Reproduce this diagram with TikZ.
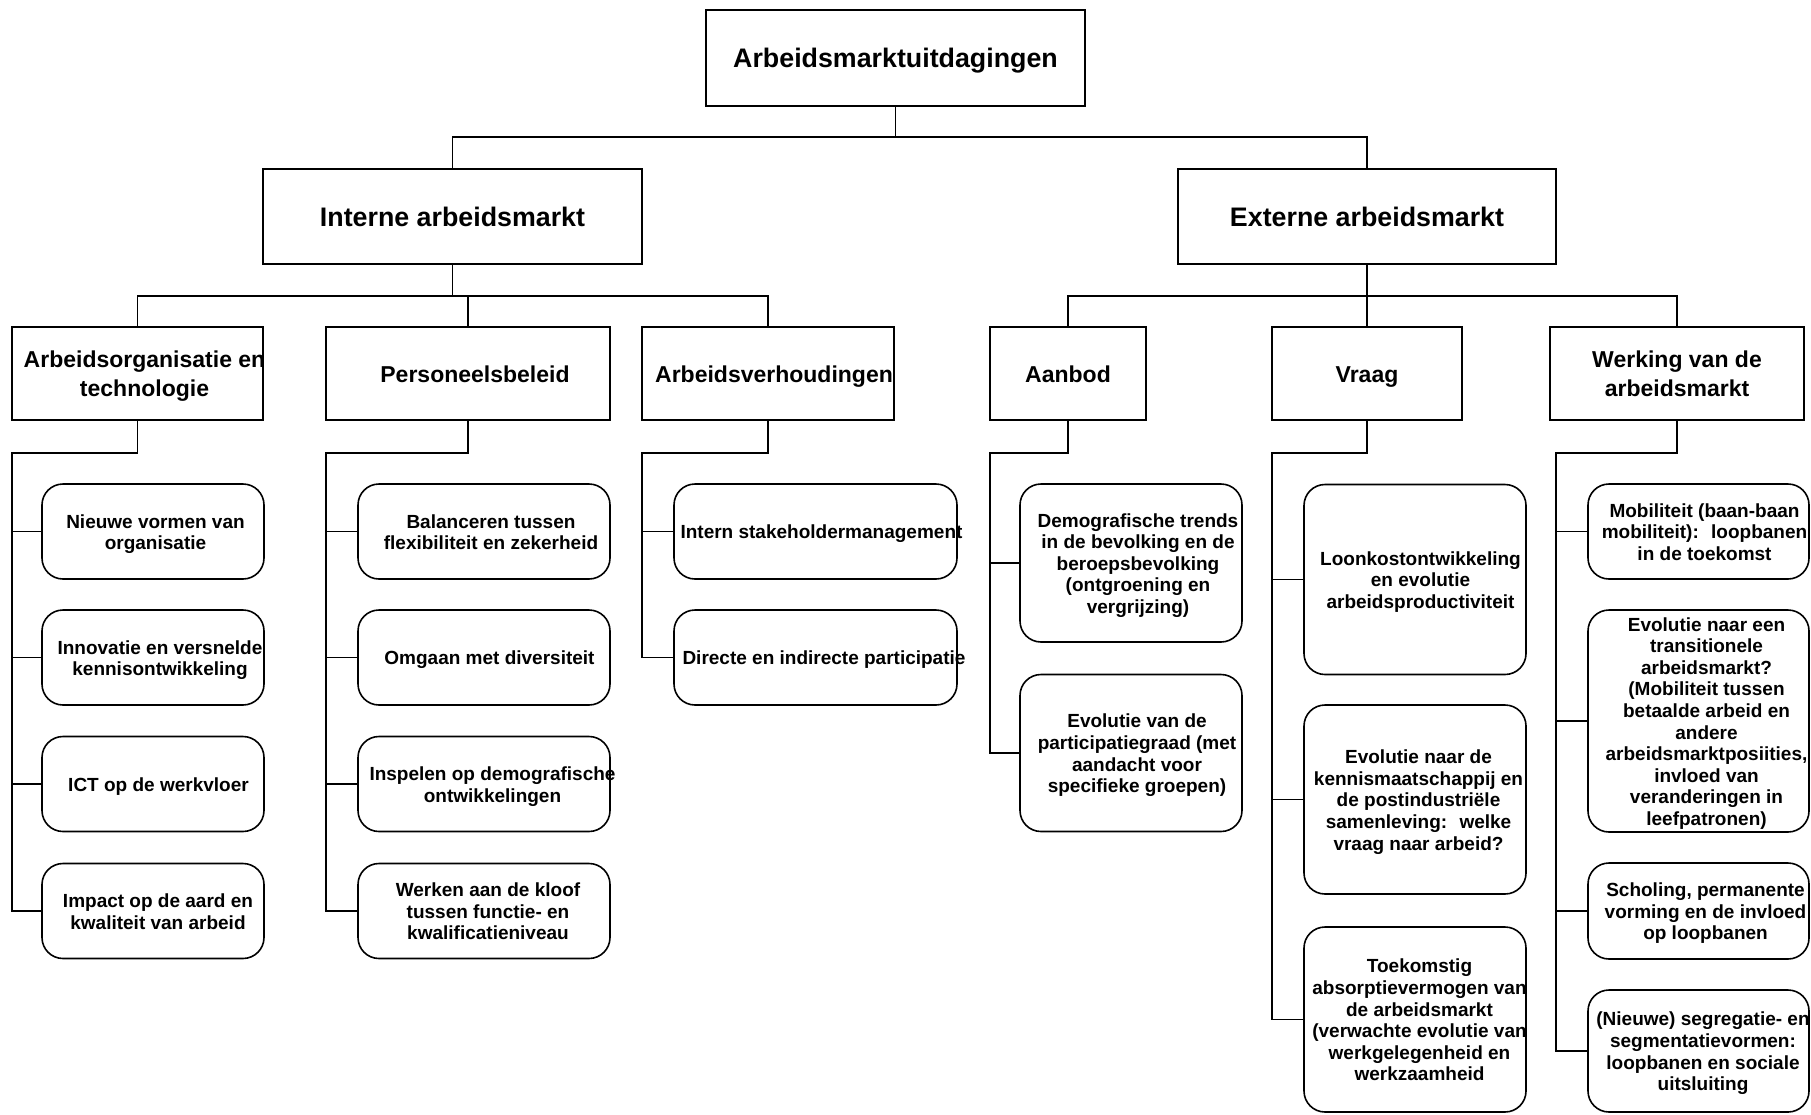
\documentclass[tikz,border=0pt]{standalone}
\usepackage{fontspec}
\setmainfont{Liberation Sans}
\newcommand\leaffont{\fontsize{19}{21.6}\selectfont\bfseries}
\newcommand\midfont{\fontsize{23}{28.5}\selectfont\bfseries}
\newcommand\topfont{\fontsize{26.8}{31}\selectfont\bfseries}
\newcommand\TX[2][0pt]{\makebox[0pt]{\hspace*{#1}\hspace*{#1}\raisebox{-3pt}[\height][\depth]{\begin{tabular}{@{}c@{}}#2\end{tabular}}}}
\tikzset{
  conn/.style={line width=1.6pt},
  hbox/.style={draw, line width=1.6pt, inner sep=0pt, fill=white},
  topbox/.style={hbox, minimum width=379pt, minimum height=96pt, font=\topfont},
  midbox/.style={hbox, minimum height=93pt, font=\midfont},
  leaf/.style={draw, line width=1.6pt, rounded corners=21pt, inner sep=0pt, fill=white, font=\leaffont},
}
\begin{document}
\begin{tikzpicture}[x=1pt,y=-1pt]
\fill[white] (0,0) rectangle (1811,1114);
\useasboundingbox (0,0) rectangle (1811,1114);

% top levels
\node[topbox] (top) at (895.5,58) {\raisebox{-2.5pt}[\height][\depth]{Arbeidsmarktuitdagingen}};
\node[topbox, minimum height=95pt] (int) at (452.5,216.5) {Interne arbeidsmarkt};
\node[topbox, minimum height=95pt, minimum width=378pt] (ext) at (1367,216.5) {Externe arbeidsmarkt};

% level 2
\node[midbox, minimum width=251pt] (ao) at (137.5,373.5) {\TX[7pt]{Arbeidsorganisatie en\\technologie}};
\node[midbox, minimum width=284pt] (pb) at (468,373.5) {\TX[7pt]{Personeelsbeleid}};
\node[midbox, minimum width=252pt] (av) at (768,373.5) {\TX[6pt]{Arbeidsverhoudingen}};
\node[midbox, minimum width=156pt] (ab) at (1068,373.5) {\TX{Aanbod}};
\node[midbox, minimum width=190pt] (vr) at (1367,373.5) {\TX{Vraag}};
\node[midbox, minimum width=254pt] (wk) at (1677,373.5) {\TX{Werking van de\\arbeidsmarkt}};

% column 1
\node[leaf, minimum width=222pt, minimum height=95pt] (l11) at (153,531.5) {\TX[2.5pt]{Nieuwe vormen van\\organisatie}};
\node[leaf, minimum width=222pt, minimum height=95pt] (l12) at (153,657.5) {\TX[7pt]{Innovatie en versnelde\\kennisontwikkeling}};
\node[leaf, minimum width=222pt, minimum height=95pt] (l13) at (153,784) {\TX[5.5pt]{ICT op de werkvloer}};
\node[leaf, minimum width=222pt, minimum height=95pt] (l14) at (153,911) {\TX[5pt]{Impact op de aard en\\kwaliteit van arbeid}};

% column 2
\node[leaf, minimum width=252pt, minimum height=95pt] (l21) at (484,531.5) {\TX[7pt]{Balanceren tussen\\flexibiliteit en zekerheid}};
\node[leaf, minimum width=252pt, minimum height=95pt] (l22) at (484,657.5) {\TX[5.5pt]{Omgaan met diversiteit}};
\node[leaf, minimum width=252pt, minimum height=95pt] (l23) at (484,784) {\TX[8.5pt]{Inspelen op demografische\\ontwikkelingen}};
\node[leaf, minimum width=252pt, minimum height=95pt] (l24) at (484,911) {\TX[4pt]{Werken aan de kloof\\tussen functie- en\\kwalificatieniveau}};

% column 3
\node[leaf, minimum width=283pt, minimum height=95pt] (l31) at (815.5,531.5) {\TX[6pt]{Intern stakeholdermanagement}};
\node[leaf, minimum width=283pt, minimum height=95pt] (l32) at (815.5,657.5) {\TX[8.5pt]{Directe en indirecte participatie}};

% column 4
\node[leaf, minimum width=222pt, minimum height=158pt] (l41) at (1131,563) {\TX[7pt]{Demografische trends\\in de bevolking en de\\beroepsbevolking\\(ontgroening en\\vergrijzing)}};
\node[leaf, minimum width=222pt, minimum height=157pt] (l42) at (1131,753) {\TX[6pt]{Evolutie van de\\participatiegraad (met\\aandacht voor\\specifieke groepen)}};

% column 5
\node[leaf, minimum width=222pt, minimum height=190pt] (l51) at (1415,579.5) {\TX[5.5pt]{Loonkostontwikkeling\\en evolutie\\arbeidsproductiviteit}};
\node[leaf, minimum width=222pt, minimum height=189pt] (l52) at (1415,799.5) {\TX[3.5pt]{Evolutie naar de\\kennismaatschappij en\\de postindustriële\\samenleving:~ welke\\vraag naar arbeid?}};
\node[leaf, minimum width=222pt, minimum height=185pt] (l53) at (1415,1019.5) {\TX[4.5pt]{Toekomstig\\absorptievermogen van\\de arbeidsmarkt\\(verwachte evolutie van\\werkgelegenheid en\\werkzaamheid}};

% column 6
\node[leaf, minimum width=221pt, minimum height=95pt] (l61) at (1698.5,531.5) {\TX[6pt]{Mobiliteit (baan-baan\\mobiliteit):~ loopbanen\\in de toekomst}};
\node[leaf, minimum width=221pt, minimum height=222pt] (l62) at (1698.5,721) {\TX[8pt]{Evolutie naar een\\transitionele\\arbeidsmarkt?\\(Mobiliteit tussen\\betaalde arbeid en\\andere\\arbeidsmarktposiities,\\invloed van\\veranderingen in\\leefpatronen)}};
\node[leaf, minimum width=221pt, minimum height=96pt] (l63) at (1698.5,911) {\TX[7pt]{Scholing, permanente\\vorming en de invloed\\op loopbanen}};
\node[leaf, minimum width=221pt, minimum height=122pt] (l64) at (1698.5,1051) {\TX[4.5pt]{(Nieuwe) segregatie- en\\segmentatievormen:\\loopbanen en sociale\\uitsluiting}};

% connectors top
\draw[conn] (top.south) -- ++(0,30) -| (int.north);
\draw[conn] (top.south) -- ++(0,30) -| (ext.north);
\foreach \c in {ao,pb,av} \draw[conn] (int.south) -- ++(0,31) -| (\c.north);
\foreach \c in {ab,vr,wk} \draw[conn] (ext.south) -- ++(0,31) -| (\c.north);

% spines
\coordinate (s1) at (12,453);
\coordinate (s2) at (326,453);
\coordinate (s3) at (642,453);
\coordinate (s4) at (990,453);
\coordinate (s5) at (1272,453);
\coordinate (s6) at (1556,453);

\draw[conn] (ao.south) |- (s1) |- (l14.west);
\foreach \l in {l11,l12,l13} \draw[conn] (s1 |- \l.west) -- (\l.west);
\draw[conn] (pb.south) |- (s2) |- (l24.west);
\foreach \l in {l21,l22,l23} \draw[conn] (s2 |- \l.west) -- (\l.west);
\draw[conn] (av.south) |- (s3) |- (l32.west);
\draw[conn] (s3 |- l31.west) -- (l31.west);
\draw[conn] (ab.south) |- (s4) |- (l42.west);
\draw[conn] (s4 |- l41.west) -- (l41.west);
\draw[conn] (vr.south) |- (s5) |- (l53.west);
\foreach \l in {l51,l52} \draw[conn] (s5 |- \l.west) -- (\l.west);
\draw[conn] (wk.south) |- (s6) |- (l64.west);
\foreach \l in {l61,l62,l63} \draw[conn] (s6 |- \l.west) -- (\l.west);
\end{tikzpicture}
\end{document}
